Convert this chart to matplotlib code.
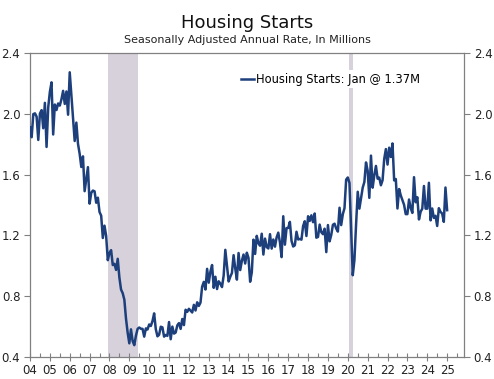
import numpy as np
import matplotlib
matplotlib.use("Agg")
import matplotlib.pyplot as plt
import pandas as pd

# Monthly housing starts, thousands SAAR, Jan 2004 - Jan 2025
starts = [
    1911, 1846, 1998, 2003, 1981, 1828, 2002, 2024, 1905, 2072, 1782, 2042,  # 2004
    2144, 2207, 1864, 2061, 2025, 2068, 2054, 2095, 2151, 2065, 2147, 1994,  # 2005
    2273, 2119, 1969, 1821, 1942, 1802, 1737, 1650, 1720, 1491, 1570, 1649,  # 2006
    1409, 1480, 1495, 1490, 1415, 1448, 1354, 1330, 1183, 1264, 1197, 1037,  # 2007
    1084, 1103, 1005, 1013, 973, 1046, 923, 844, 820, 777, 652, 560,         # 2008
    490, 582, 505, 478, 540, 585, 594, 586, 585, 534, 588, 581,              # 2009
    614, 604, 636, 687, 583, 536, 546, 599, 595, 534, 545, 539,              # 2010
    630, 517, 600, 554, 561, 608, 623, 585, 650, 610, 711, 697,              # 2011
    717, 705, 693, 743, 706, 760, 736, 758, 863, 894, 844, 980,              # 2012
    889, 962, 1005, 855, 928, 847, 898, 883, 860, 936, 1105, 1003,           # 2013
    897, 928, 953, 1070, 983, 909, 1084, 972, 1033, 1074, 1015, 1086,        # 2014
    1052, 895, 957, 1172, 1078, 1197, 1148, 1132, 1211, 1074, 1179, 1123,    # 2015
    1114, 1208, 1113, 1173, 1126, 1187, 1218, 1154, 1057, 1326, 1139, 1248,  # 2016
    1249, 1289, 1164, 1127, 1135, 1224, 1173, 1177, 1172, 1262, 1293, 1196,  # 2017
    1326, 1295, 1332, 1287, 1344, 1185, 1190, 1271, 1221, 1208, 1244, 1090,  # 2018
    1268, 1161, 1203, 1270, 1277, 1245, 1225, 1382, 1268, 1340, 1379, 1567,  # 2019
    1581, 1545, 1234, 938, 1038, 1273, 1487, 1376, 1444, 1514, 1551, 1680,   # 2020
    1625, 1447, 1725, 1514, 1594, 1657, 1573, 1580, 1530, 1563, 1703, 1768,  # 2021
    1666, 1777, 1716, 1805, 1562, 1571, 1377, 1505, 1463, 1432, 1401, 1340,  # 2022
    1340, 1436, 1380, 1348, 1583, 1418, 1451, 1305, 1356, 1376, 1525, 1376,  # 2023
    1376, 1546, 1299, 1377, 1315, 1329, 1262, 1379, 1355, 1344, 1289, 1515,  # 2024
    1366,                                                                    # 2025
]
start_year = 2004
recessions = [(2007.92, 2009.45), (2020.08, 2020.25)]
year_labels = [f"{y % 100:02d}" for y in range(2004, 2026)]
y_ticks = [0.4, 0.8, 1.2, 1.6, 2.0, 2.4]

vals = np.array(starts) / 1000.0
x = start_year + np.arange(len(vals)) / 12.0

line_color = "#1d3f7c"
band_color = "#d6d1db"
grey = "#808080"

fig = plt.figure(figsize=(4.94, 3.79), dpi=100)
ax = fig.add_axes([30/494, 1 - 357/379, 434/494, 304/379])

for a, b in recessions:
    ax.axvspan(a, b, color=band_color, lw=0, zorder=0)

ax.plot(x, vals, color=line_color, lw=1.8, zorder=3,
        label="Housing Starts: Jan @ 1.37M")

ax.set_xlim(2004, 2025.85)
ax.set_ylim(0.4, 2.4)

ax.set_xticks(np.arange(2004, 2026))
ax.set_xticklabels(year_labels)
ax.set_xticks(np.arange(2004.5, 2025.6, 1.0), minor=True)
ax.set_yticks(y_ticks)
ax.set_yticklabels([f"{v:.1f}" for v in y_ticks])

for s in ax.spines.values():
    s.set_color(grey)
    s.set_linewidth(0.9)

ax.tick_params(axis="x", which="major", direction="inout", length=6, width=0.8,
               color=grey, labelsize=8.5, pad=2, labelcolor="#222222")
ax.tick_params(axis="x", which="minor", direction="in", length=3, width=0.8, color=grey)
ax.tick_params(axis="y", which="major", direction="out", length=4, width=0.8,
               color=grey, labelsize=8.5, labelcolor="#222222",
               left=True, right=True, labelleft=True, labelright=True, pad=3)

leg = ax.legend(loc="upper left", bbox_to_anchor=(0.48, 0.945), frameon=True,
                fontsize=8.3, handlelength=1.1, handletextpad=0.2,
                borderpad=0.25, borderaxespad=0)
leg.get_frame().set_facecolor("white")
leg.get_frame().set_edgecolor("none")
leg.get_frame().set_alpha(1)
leg.set_zorder(5)

fig.text(0.5, 1 - 23/379, "Housing Starts", ha="center", va="center",
         fontsize=13, color="#111111")
fig.text(0.5, 1 - 40/379, "Seasonally Adjusted Annual Rate, In Millions",
         ha="center", va="center", fontsize=8.0, color="#222222")

fig.savefig("out.png", dpi=100)
